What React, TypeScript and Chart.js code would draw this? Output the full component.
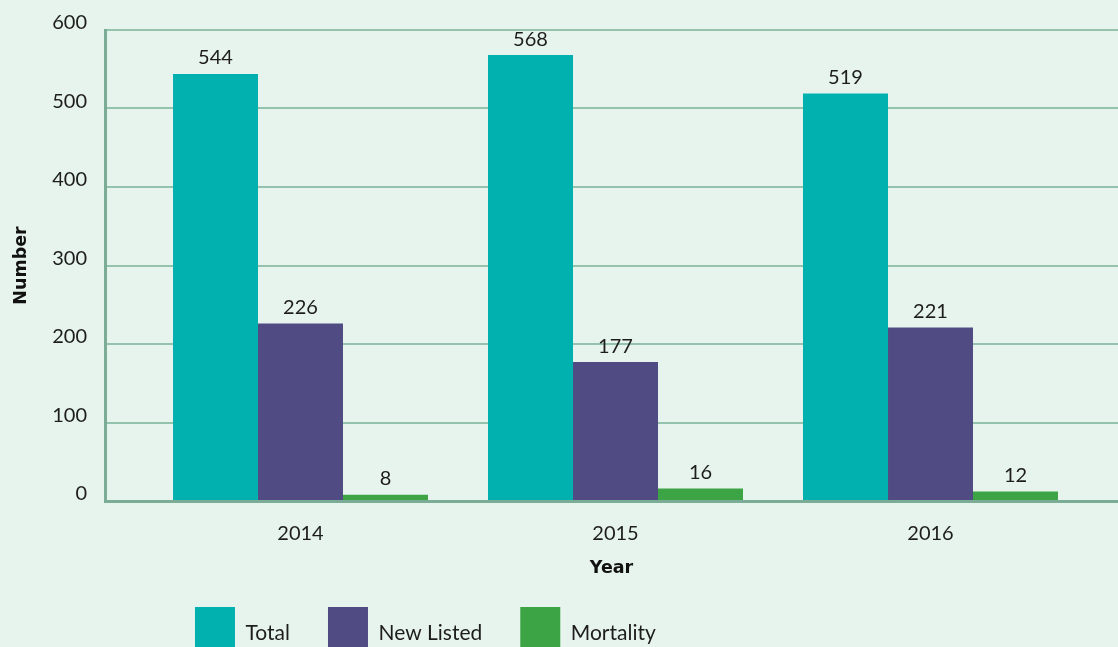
import React, { useEffect, useRef } from "react";
import { Chart, registerables } from "chart.js";

Chart.register(...registerables);

const years = ["2014", "2015", "2016"];
const totalValues = [544, 568, 519];
const newListedValues = [226, 177, 221];
const mortalityValues = [8, 16, 12];
const seriesNames = ["Total", "New Listed", "Mortality"];
const seriesColors = ["#00b1af", "#504c83", "#3ca445"];
const yTicks = [0, 100, 200, 300, 400, 500, 600];

const BG = "#e7f4ee";
const GRID = "#93c3ac";
const AXIS = "#7aac96";
const TEXT = "#1d1d1d";
const FONT = "Lato, 'Open Sans', sans-serif";
const TITLE_FONT = "'DejaVu Sans', Lato, sans-serif";

const valueLabels = {
  id: "valueLabels",
  afterDatasetsDraw(chart: any) {
    const ctx = chart.ctx;
    ctx.save();
    ctx.font = `20px ${FONT}`;
    ctx.fillStyle = TEXT;
    ctx.textAlign = "center";
    ctx.textBaseline = "middle";
    chart.data.datasets.forEach((ds: any, di: number) => {
      const meta = chart.getDatasetMeta(di);
      meta.data.forEach((bar: any, i: number) => {
        const v = ds.data[i].y;
        ctx.fillText(String(v), bar.x, bar.y - 16);
      });
    });
    ctx.restore();
  },
};

const legendShift = {
  id: "legendShift",
  afterLayout(chart: any) {
    const lg = chart.legend;
    if (lg) {
      lg.left += 157;
      lg.right += 157;
    }
  },
};

export default function App() {
  const ref = useRef<HTMLCanvasElement>(null);

  useEffect(() => {
    if (!ref.current) return;
    const toPoints = (arr: number[]) => arr.map((y, i) => ({ x: i, y }));
    const seriesValues = [totalValues, newListedValues, mortalityValues];
    const chart = new Chart(ref.current, {
      type: "bar",
      data: {
        datasets: seriesNames.map((name, k) => ({
          label: name,
          data: toPoints(seriesValues[k]),
          backgroundColor: seriesColors[k],
          borderWidth: 0,
          categoryPercentage: 0.8095,
          barPercentage: 1,
        })) as any,
      },
      options: {
        responsive: false,
        animation: false,
        layout: { padding: { top: 27, left: 0, right: 0, bottom: 0 } },
        plugins: {
          legend: {
            position: "bottom",
            align: "start",
            labels: {
              boxWidth: 40,
              boxHeight: 52,
              padding: 38,
              color: TEXT,
              font: { family: FONT, size: 21 },
            },
          },
          tooltip: { enabled: false },
        },
        scales: {
          x: {
            type: "linear",
            min: -0.6206,
            max: 2.5952,
            bounds: "data",
            offset: false,
            afterBuildTicks(scale: any) {
              scale.ticks = years.map((_, i) => ({ value: i }));
            },
            afterFit(scale: any) {
              scale.height = 68;
            },
            ticks: {
              padding: 21,
              color: TEXT,
              font: { family: FONT, size: 20 },
              callback: (v: any) => years[v] ?? "",
              autoSkip: false,
              maxRotation: 0,
            },
            grid: { display: false, drawTicks: false, offset: false },
            border: { display: true, color: AXIS, width: 3 },
            title: {
              display: true,
              text: "Year",
              color: "#111",
              font: { family: TITLE_FONT, size: 17.5, weight: "bold" },
              padding: { top: 0, bottom: -10 },
            },
          },
          y: {
            min: 0,
            max: 600,
            afterBuildTicks(scale: any) {
              scale.ticks = yTicks.map((v) => ({ value: v }));
            },
            afterFit(scale: any) {
              scale.width = 105;
            },
            ticks: {
              padding: 18,
              labelOffset: -7,
              color: TEXT,
              font: { family: FONT, size: 20 },
            },
            grid: { color: GRID, lineWidth: 2, drawTicks: false },
            border: { display: true, color: AXIS, width: 3 },
            title: {
              display: true,
              text: "Number",
              color: "#111",
              font: { family: TITLE_FONT, size: 17.5, weight: "bold" },
              padding: { top: 11, bottom: 0 },
            },
          },
        },
      } as any,
      plugins: [valueLabels, legendShift],
    });
    return () => chart.destroy();
  }, []);

  return (
    <div
      style={{
        position: "fixed",
        left: 0,
        top: 0,
        width: 1118,
        height: 647,
        overflow: "hidden",
        background: BG,
      }}
    >
      <canvas ref={ref} width={1118} height={669} style={{ display: "block" }} />
    </div>
  );
}
